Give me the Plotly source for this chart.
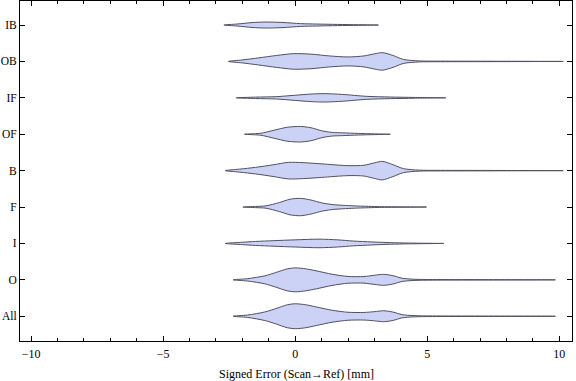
import plotly.graph_objects as go

categories = ["All", "O", "I", "F", "B", "OF", "IF", "OB", "IB"]

# density outlines: x positions (mm) and half-widths (px-equivalent density)
prof_x = {
    "All": [-2.35, -1.8, -1.15, -0.75, -0.3, 0.0, 0.4, 0.8, 1.4, 2.0, 2.6, 3.0, 3.35, 3.7, 4.05, 4.5, 5.2, 7.0, 9.85],
    "O":   [-2.35, -1.8, -1.15, -0.75, -0.3, 0.0, 0.4, 0.8, 1.4, 2.0, 2.6, 3.0, 3.35, 3.7, 4.05, 4.5, 5.2, 7.0, 9.85],
    "I":   [-2.65, -2.0, -1.5, -0.8, 0.0, 0.9, 1.6, 2.2, 2.9, 3.6, 4.3, 5.63],
    "F":   [-1.98, -1.5, -1.1, -0.6, -0.2, 0.2, 0.6, 1.0, 1.4, 1.9, 2.4, 3.2, 4.97],
    "B":   [-2.65, -2.1, -1.5, -0.8, -0.26, 0.3, 1.0, 2.0, 2.6, 3.0, 3.3, 3.7, 4.1, 4.7, 5.5, 7.5, 10.15],
    "OF":  [-1.92, -1.5, -1.3, -0.8, -0.3, 0.2, 0.6, 1.0, 1.4, 1.8, 2.4, 3.6],
    "IF":  [-2.23, -1.5, -0.7, 0.0, 0.6, 1.14, 1.8, 2.7, 3.6, 4.5, 5.7],
    "OB":  [-2.53, -2.0, -1.4, -0.7, -0.07, 0.6, 1.3, 2.0, 2.6, 3.0, 3.3, 3.7, 4.1, 4.7, 5.5, 7.5, 10.15],
    "IB":  [-2.7, -2.2, -1.6, -1.14, -0.5, 0.2, 0.8, 1.6, 2.4, 3.15],
}
prof_w = {
    "All": [0, 1.2, 4.3, 7.5, 11.5, 12.5, 11.5, 9.3, 6.0, 4.0, 3.8, 4.6, 5.5, 4.2, 1.6, 0.6, 0.3, 0.2, 0],
    "O":   [0, 1.2, 4.0, 7.2, 11.0, 12.0, 11.0, 9.0, 5.6, 3.4, 3.3, 4.6, 5.5, 4.2, 1.6, 0.6, 0.3, 0.2, 0],
    "I":   [0, 1.2, 2.0, 2.8, 3.6, 4.3, 3.6, 2.4, 1.5, 0.8, 0.4, 0],
    "F":   [0, 0.6, 1.2, 4.5, 7.8, 8.7, 7.0, 4.2, 2.5, 1.6, 1.0, 0.4, 0],
    "B":   [0, 1.5, 3.3, 6.0, 8.3, 8.0, 6.8, 5.0, 5.4, 7.8, 9.3, 6.0, 2.0, 0.5, 0.3, 0.2, 0],
    "OF":  [0, 0.6, 1.0, 4.0, 7.0, 7.8, 6.5, 3.5, 1.8, 1.4, 0.8, 0],
    "IF":  [0, 0.7, 1.2, 2.6, 3.8, 4.2, 3.4, 1.5, 0.8, 0.4, 0],
    "OB":  [0, 1.5, 3.5, 6.0, 7.8, 7.3, 5.5, 4.5, 5.5, 7.6, 8.8, 6.0, 2.0, 0.5, 0.3, 0.2, 0],
    "IB":  [0, 1.0, 2.5, 3.0, 2.6, 1.4, 1.0, 0.6, 0.3, 0],
}

x_ticks = [-10, -5, 0, 5, 10]
x_title = "Signed Error (Scan\u2192Ref) [mm]"

PX_PER_UNIT = 36.5
FILL = "rgb(204,210,245)"
EDGE = "rgb(80,80,95)"

fig = go.Figure()
for i, cat in enumerate(categories):
    xs = prof_x[cat]
    ws = [w / PX_PER_UNIT for w in prof_w[cat]]
    top = [i + w for w in ws]
    bot = [i - w for w in ws]
    fig.add_trace(go.Scatter(
        x=xs + xs[::-1], y=top + bot[::-1],
        mode="lines", fill="toself", fillcolor=FILL,
        line=dict(color=EDGE, width=1, shape="spline", smoothing=0.8),
        hoverinfo="skip", showlegend=False,
    ))

font = dict(family="Liberation Serif, Times New Roman, serif", size=12, color="black")
yfont = dict(family="Liberation Serif, Times New Roman, serif", size=11.5, color="black")
fig.update_layout(
    width=576, height=381,
    margin=dict(l=20, r=4, t=1, b=40),
    paper_bgcolor="white", plot_bgcolor="white",
    font=font,
    xaxis=dict(
        range=[-10.42, 10.48], tickvals=x_ticks, ticks="inside", ticklen=5,
        tickcolor="black", tickwidth=1,
        minor=dict(ticks="inside", dtick=1, ticklen=3, tickcolor="black", tickwidth=1),
        showline=True, linecolor="black", linewidth=1, mirror="ticks",
        showgrid=False, zeroline=False, automargin=False,
        tickfont=font, ticklabelstandoff=2,
    ),
    yaxis=dict(
        range=[-0.68, 8.66], tickvals=list(range(len(categories))), ticktext=categories,
        ticks="inside", ticklen=5, tickcolor="black", tickwidth=1,
        showline=True, linecolor="black", linewidth=1, mirror="ticks",
        showgrid=False, zeroline=False, tickfont=yfont, automargin=False,
        ticklabelstandoff=0,
    ),
    annotations=[dict(
        text=x_title, xref="paper", yref="paper", x=0.5, y=0, yshift=-24,
        xanchor="center", yanchor="top", showarrow=False, font=font,
    )],
)

fig.write_html(
    "out.html",
    config={"displayModeBar": False},
    post_script="document.body.style.margin='0';document.body.style.overflow='hidden';",
)
